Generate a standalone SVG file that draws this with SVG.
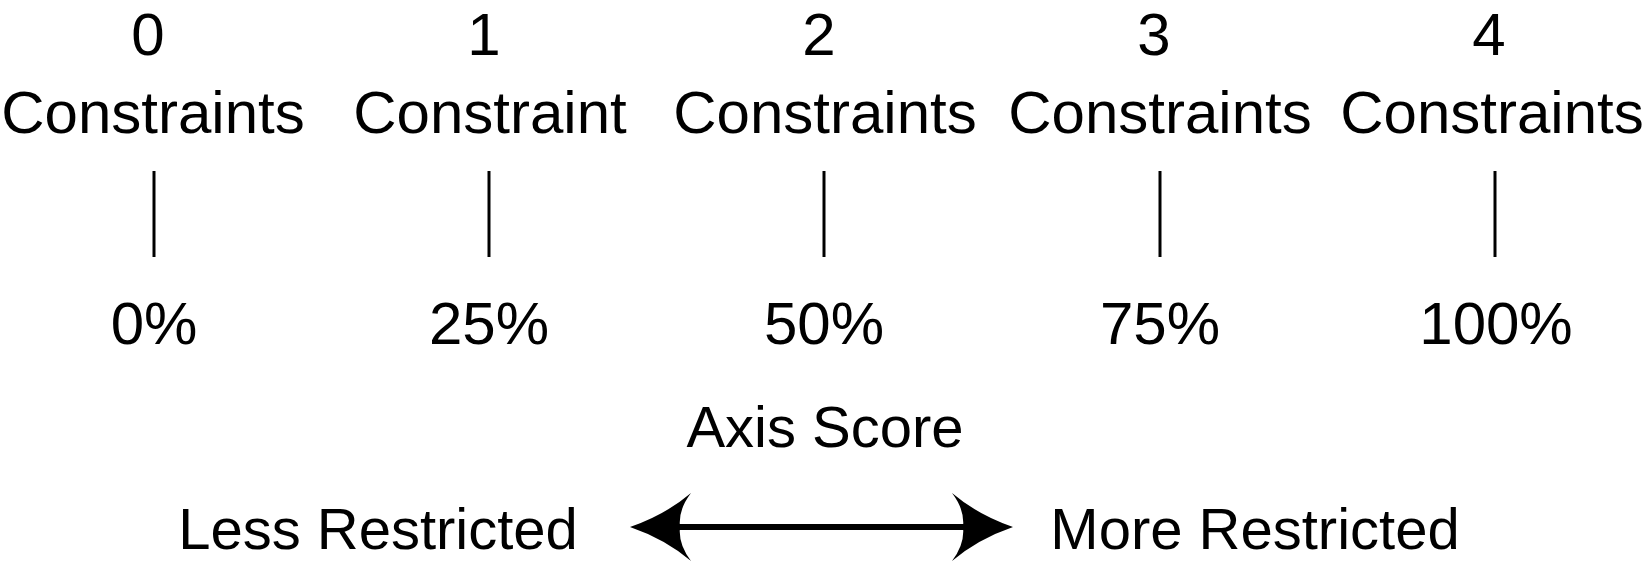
<svg xmlns="http://www.w3.org/2000/svg" width="1650" height="566" viewBox="0 0 1650 566">
<style>
text{font-family:"Liberation Sans","DejaVu Sans",sans-serif;font-size:60px;fill:#000;text-anchor:middle}
.small{font-size:58px}
.tick{stroke:#000;stroke-width:3}
.head{fill:#000}
</style>
<rect width="1650" height="566" fill="#fff"/>
<g id="node-0">
<text x="148" y="55">0</text>
<text x="153" y="133">Constraints</text>
<line class="tick" x1="154" y1="171" x2="154" y2="257"/>
<text x="154" y="344">0%</text>
</g>
<g id="node-1">
<text x="484" y="55">1</text>
<text x="490" y="133">Constraint</text>
<line class="tick" x1="489" y1="171" x2="489" y2="257"/>
<text x="489" y="344">25%</text>
</g>
<g id="node-2">
<text x="819" y="55">2</text>
<text x="825" y="133">Constraints</text>
<line class="tick" x1="824" y1="171" x2="824" y2="257"/>
<text x="824" y="344">50%</text>
</g>
<g id="node-3">
<text x="1154" y="55">3</text>
<text x="1160" y="133">Constraints</text>
<line class="tick" x1="1160" y1="171" x2="1160" y2="257"/>
<text x="1160" y="344">75%</text>
</g>
<g id="node-4">
<text x="1489" y="55">4</text>
<text x="1492" y="133">Constraints</text>
<line class="tick" x1="1495" y1="171" x2="1495" y2="257"/>
<text x="1496" y="344">100%</text>
</g>
<g id="axis-label">
<text class="small" x="825" y="447">Axis Score</text>
</g>
<g id="less">
<text class="small" x="378" y="549">Less Restricted</text>
</g>
<g id="more">
<text class="small" x="1255" y="549">More Restricted</text>
</g>
<g id="connectors">
<rect x="678" y="524" width="287" height="6" fill="#000"/>
<path class="head" d="M630,527 Q665,515 691,493 Q678,510 680,527 Q678,544 691,561 Q665,539 630,527 Z"/>
<path class="head" d="M1013,527 Q978,515 952,493 Q965,510 963,527 Q965,544 952,561 Q978,539 1013,527 Z"/>
</g>
</svg>
